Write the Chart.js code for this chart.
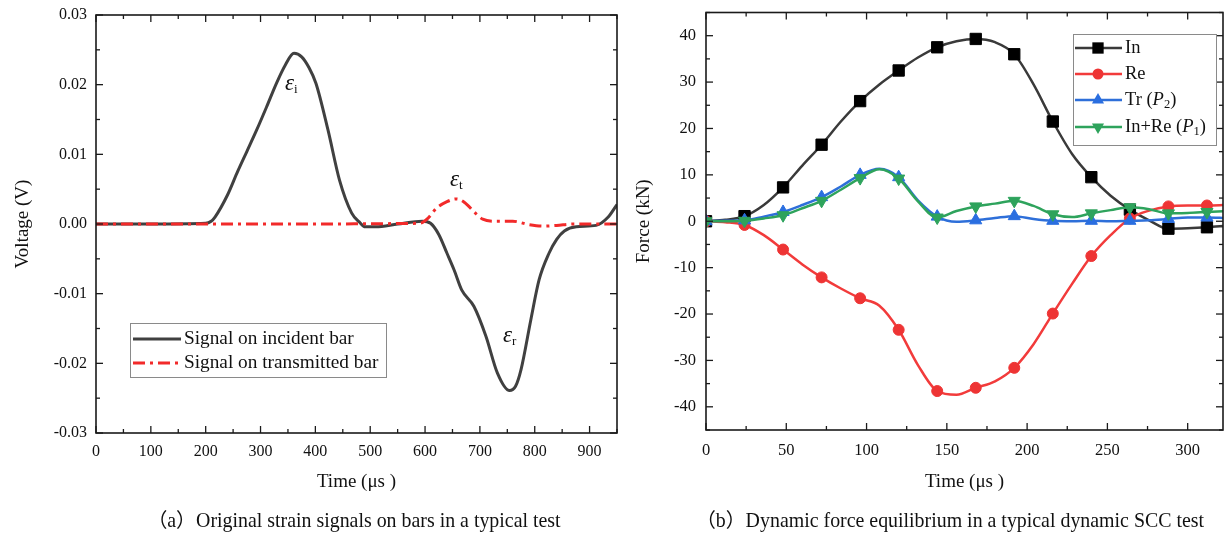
<!DOCTYPE html>
<html>
<head>
<meta charset="utf-8">
<script src="https://cdn.jsdelivr.net/npm/chart.js@4.4.0/dist/chart.umd.min.js"></script>
<style>
  body { margin: 0; background: #fff; }
  #wrap { position: relative; width: 1225px; height: 537px; overflow: hidden; }
  #strain-box { position: absolute; left: 0; top: 0; width: 630px; height: 537px; }
  #force-box { position: absolute; left: 630px; top: 0; width: 602px; height: 537px; }
</style>
</head>
<body>
<div id="wrap">
  <div id="strain-box"><canvas id="strain-canvas"></canvas></div>
  <div id="force-box"><canvas id="force-canvas"></canvas></div>
</div>
<script>
// (a) strain signals
const incident_time = [0, 100, 200, 210, 217, 240, 257, 275, 293, 311, 329, 345, 361, 375, 388, 401, 423, 444, 466, 480, 491, 510, 550, 595, 610, 625, 640, 653, 667, 689, 711, 732, 754, 765, 775, 793, 808, 826, 840, 854, 876, 912, 934, 950];
const incident_volt = [0, 0, 0.0001, 0.0004, 0.0010, 0.0042, 0.0073, 0.0104, 0.0135, 0.0168, 0.0202, 0.0228, 0.0245, 0.0240, 0.0225, 0.0202, 0.0135, 0.0063, 0.0016, 0.0003, -0.0004, -0.0004, 0.0000, 0.0004, 0.0001, -0.0015, -0.0042, -0.0066, -0.0095, -0.0118, -0.0161, -0.0214, -0.0239, -0.0233, -0.0209, -0.0137, -0.0080, -0.0042, -0.0022, -0.0010, -0.0004, -0.0002, 0.0010, 0.0028];
const transmit_time = [0, 300, 590, 605, 620, 640, 657, 672, 690, 705, 730, 760, 790, 815, 840, 870, 950];
const transmit_volt = [0, 0, 0.0001, 0.0008, 0.0022, 0.0032, 0.0036, 0.0031, 0.0017, 0.0007, 0.0004, 0.0004, -0.0001, -0.0003, -0.0002, 0, 0];
const strain_x_ticks = [0, 100, 200, 300, 400, 500, 600, 700, 800, 900];
const strain_y_ticks = [-0.03, -0.02, -0.01, 0, 0.01, 0.02, 0.03];

// (b) force equilibrium, sampled every 12 us (markers every 24 us)
const force_time = [0, 12, 24, 36, 48, 60, 72, 84, 96, 108, 120, 132, 144, 156, 168, 180, 192, 204, 216, 228, 240, 252, 264, 276, 288, 300, 312, 324];
const force_in = [0, 0.3, 1.1, 3.5, 7.3, 12, 16.5, 21.5, 25.9, 29.5, 32.5, 35.3, 37.5, 38.8, 39.3, 38.6, 36, 29.5, 21.5, 14.5, 9.5, 5.5, 2.5, 0.2, -1.6, -1.5, -1.3, -1.0];
const force_re = [0, -0.2, -0.8, -3, -6.1, -9.3, -12.1, -14.5, -16.6, -18.2, -23.4, -31, -36.6, -37.4, -35.9, -34.5, -31.6, -26.5, -19.9, -13.5, -7.5, -3, 0.6, 2.3, 3.2, 3.4, 3.4, 3.5];
const force_tr = [0, 0.1, 0.2, 1, 2, 3.5, 5.2, 7.5, 10, 11.3, 9.5, 4.5, 1, -0.1, 0.2, 0.7, 1.1, 0.5, 0.1, 0, 0.1, 0, 0.1, 0.2, 0.5, 0.8, 0.8, 0.7];
const force_p1 = [0, 0, 0.1, 0.6, 1.3, 2.8, 4.4, 6.8, 9.3, 11.2, 9.2, 4.3, 0.8, 2.2, 3.2, 3.8, 4.4, 3.3, 1.5, 0.9, 1.7, 2.4, 3.0, 2.6, 1.7, 1.8, 2.0, 2.2];
const force_x_ticks = [0, 50, 100, 150, 200, 250, 300];
const force_y_ticks = [-40, -30, -20, -10, 0, 10, 20, 30, 40];

const SERIF = "'Liberation Serif', 'Times New Roman', serif";
const CAPTION_FONT = `19.9px ${SERIF}, 'Noto Sans CJK SC'`;

const toPoints = (xs, ys) => xs.map((x, i) => ({ x: x, y: ys[i] }));
const isMarker = (i) => force_time[i] % 24 === 0;

// mirrored inward ticks and closed frame, like the original plots
const frameTicks = {
  id: "frameTicks",
  afterDatasetsDraw(chart, args, opts) {
    const { ctx, chartArea: { left, right, top, bottom }, scales: { x, y } } = chart;
    const line = (x1, y1, x2, y2) => {
      ctx.beginPath();
      ctx.moveTo(x1, y1);
      ctx.lineTo(x2, y2);
      ctx.stroke();
    };
    const isMajor = (scale, v) => scale.ticks.some(({ value }) => Math.abs(value - v) < 1e-9);
    ctx.save();
    ctx.strokeStyle = "#1a1a1a";
    ctx.lineWidth = 1.3;
    for (let i = Math.ceil(x.min / opts.x_minor - 1e-9); i * opts.x_minor <= x.max + 1e-9; i++) {
      const v = i * opts.x_minor;
      const len = isMajor(x, v) ? 7 : 4;
      const px = x.getPixelForValue(v);
      line(px, bottom, px, bottom - len);
      line(px, top, px, top + len);
    }
    for (let i = Math.ceil(y.min / opts.y_minor - 1e-9); i * opts.y_minor <= y.max + 1e-9; i++) {
      const v = i * opts.y_minor;
      const len = isMajor(y, v) ? 7 : 4;
      const py = y.getPixelForValue(v);
      line(left, py, left + len, py);
      line(right, py, right - len, py);
    }
    ctx.lineWidth = 1.6;
    ctx.strokeRect(left, top, right - left, bottom - top);
    ctx.restore();
  },
};

const drawParts = (ctx, parts, x, y) => {
  let cur_x = x;
  parts.forEach(({ text, font, dy = 0 }) => {
    ctx.font = font;
    ctx.fillText(text, cur_x, y + dy);
    cur_x += ctx.measureText(text).width;
  });
};

const drawMarker = (ctx, style, x, y, r) => {
  ctx.beginPath();
  if (style === "rect") {
    const s = r * Math.SQRT1_2;
    ctx.rect(x - s, y - s, 2 * s, 2 * s);
  } else if (style === "circle") {
    ctx.arc(x, y, r, 0, Math.PI * 2);
  } else {
    const dir = style === "triangle-down" ? -1 : 1;
    ctx.moveTo(x, y - dir * r);
    ctx.lineTo(x + r * 0.866, y + dir * r / 2);
    ctx.lineTo(x - r * 0.866, y + dir * r / 2);
    ctx.closePath();
  }
  ctx.fill();
};

const strainNotes = {
  id: "strainNotes",
  afterDraw(chart) {
    const { ctx } = chart;
    ctx.save();
    ctx.fillStyle = "#111";
    ctx.textBaseline = "middle";
    const eps = `italic 23px ${SERIF}`;
    const sub = `13px ${SERIF}`;
    drawParts(ctx, [{ text: "\u03b5", font: eps }, { text: "i", font: sub, dy: 6 }], 285, 84);
    drawParts(ctx, [{ text: "\u03b5", font: eps }, { text: "t", font: sub, dy: 6 }], 450, 180);
    drawParts(ctx, [{ text: "\u03b5", font: eps }, { text: "r", font: sub, dy: 6 }], 503, 336);

    // legend
    ctx.strokeStyle = "#8a8a8a";
    ctx.lineWidth = 1;
    ctx.strokeRect(130.5, 323.5, 256, 54);
    ctx.lineWidth = 3;
    ctx.strokeStyle = "#404040";
    ctx.beginPath();
    ctx.moveTo(133, 339);
    ctx.lineTo(181, 339);
    ctx.stroke();
    ctx.strokeStyle = "#f22a2a";
    ctx.setLineDash([12, 5, 3, 5]);
    ctx.beginPath();
    ctx.moveTo(133, 363);
    ctx.lineTo(181, 363);
    ctx.stroke();
    ctx.setLineDash([]);
    ctx.font = `19.3px ${SERIF}`;
    ctx.fillText("Signal on incident bar", 184, 339);
    ctx.fillText("Signal on transmitted bar", 184, 363);

    ctx.textAlign = "center";
    ctx.font = CAPTION_FONT;
    ctx.fillText("（a）Original strain signals on bars in a typical test", 354, 522);
    ctx.restore();
  },
};

const force_series = [
  { label: "In", color: "#3a3a3a", mark: "#000000", style: "rect" },
  { label: "Re", color: "#f23b3b", mark: "#ee3434", style: "circle" },
  { label: "Tr", sub: "2", color: "#2e6fd9", mark: "#2a6ee0", style: "triangle" },
  { label: "In+Re", sub: "1", color: "#2ea35c", mark: "#2ea35c", style: "triangle-down" },
];

const forceNotes = {
  id: "forceNotes",
  afterDraw(chart) {
    const { ctx } = chart;
    const off = 630;
    ctx.save();
    ctx.fillStyle = "#111";
    ctx.textBaseline = "middle";
    ctx.strokeStyle = "#8a8a8a";
    ctx.lineWidth = 1;
    ctx.strokeRect(1073.5 - off, 34.5, 143, 111);
    const rows = [48, 74, 100, 127];
    const txt = `18.5px ${SERIF}`;
    const ital = `italic 18.5px ${SERIF}`;
    const sub = `12.5px ${SERIF}`;
    force_series.forEach(({ label, sub: s, color, mark, style }, i) => {
      const y = rows[i];
      ctx.strokeStyle = color;
      ctx.lineWidth = 2.5;
      ctx.beginPath();
      ctx.moveTo(1075 - off, y);
      ctx.lineTo(1122 - off, y);
      ctx.stroke();
      ctx.fillStyle = mark;
      const r = style === "rect" ? 8 : style === "circle" ? 5.5 : 7;
      drawMarker(ctx, style, 1098 - off, y, r);
      ctx.fillStyle = "#111";
      const parts = [{ text: label, font: txt }];
      if (s) {
        parts.push({ text: " (", font: txt }, { text: "P", font: ital }, { text: s, font: sub, dy: 5 }, { text: ")", font: txt });
      }
      drawParts(ctx, parts, 1125 - off, y);
    });
    ctx.textAlign = "center";
    ctx.font = CAPTION_FONT;
    ctx.fillText("（b）Dynamic force equilibrium in a typical dynamic SCC test", 950 - off, 522);
    ctx.restore();
  },
};

const tickFont = (size) => ({ family: SERIF, size: size });
// keep the plot box where the layout padding says, not where the tick labels push it
const noPad = (scale) => {
  scale.paddingTop = 0;
  scale.paddingBottom = 0;
  scale.paddingLeft = 0;
  scale.paddingRight = 0;
};

new Chart(document.getElementById("strain-canvas"), {
  type: "line",
  data: {
    datasets: [
      {
        label: "Signal on transmitted bar",
        data: toPoints(transmit_time, transmit_volt),
        borderColor: "#f22a2a",
        borderWidth: 3,
        borderDash: [12, 5, 3, 5],
        pointRadius: 0,
        cubicInterpolationMode: "monotone",
      },
      {
        label: "Signal on incident bar",
        data: toPoints(incident_time, incident_volt),
        borderColor: "#404040",
        borderWidth: 3,
        pointRadius: 0,
        cubicInterpolationMode: "monotone",
      },
    ],
  },
  options: {
    animation: false,
    responsive: true,
    maintainAspectRatio: false,
    layout: { padding: { top: 15, right: 13, bottom: 28, left: 0 } },
    plugins: {
      legend: { display: false },
      tooltip: { enabled: false },
      frameTicks: { x_minor: 50, y_minor: 0.005 },
    },
    scales: {
      x: {
        type: "linear",
        min: 0,
        max: 950,
        afterBuildTicks: (scale) => { scale.ticks = strain_x_ticks.map((v) => ({ value: v })); },
        afterFit: (scale) => { scale.height = 76; noPad(scale); },
        grid: { display: false, drawTicks: false },
        border: { display: false },
        ticks: { font: tickFont(16), color: "#111", padding: 9, maxRotation: 0 },
        title: { display: true, text: "Time (\u03bcs )", font: tickFont(19), color: "#111", padding: { top: 0, bottom: 16 } },
      },
      y: {
        min: -0.03,
        max: 0.03,
        afterBuildTicks: (scale) => { scale.ticks = strain_y_ticks.map((v) => ({ value: v })); },
        afterFit: (scale) => { scale.width = 96; noPad(scale); },
        grid: { display: false, drawTicks: false },
        border: { display: false },
        ticks: { font: tickFont(16), color: "#111", padding: 9, callback: (v) => v.toFixed(2) },
        title: { display: true, text: "Voltage (V)", font: tickFont(19), color: "#111", padding: { top: 11.5, bottom: 0 } },
      },
    },
  },
  plugins: [frameTicks, strainNotes],
});

new Chart(document.getElementById("force-canvas"), {
  type: "line",
  data: {
    datasets: [force_in, force_re, force_tr, force_p1].map((values, i) => {
      const { label, color, mark, style } = force_series[i];
      return {
        label: label,
        data: toPoints(force_time, values),
        borderColor: color,
        borderWidth: 2.5,
        backgroundColor: mark,
        pointBackgroundColor: mark,
        pointBorderColor: mark,
        pointBorderWidth: 1,
        pointStyle: style === "triangle-down" ? "triangle" : style,
        rotation: style === "triangle-down" ? 180 : 0,
        pointRadius: (ctx) => (isMarker(ctx.dataIndex) ? (style === "rect" ? 8 : style === "circle" ? 5.5 : 7) : 0),
        cubicInterpolationMode: "monotone",
        order: 3 - i,
      };
    }),
  },
  options: {
    animation: false,
    responsive: true,
    maintainAspectRatio: false,
    layout: { padding: { top: 12.5, right: 2, bottom: 28, left: 0 } },
    plugins: {
      legend: { display: false },
      tooltip: { enabled: false },
      frameTicks: { x_minor: 25, y_minor: 5 },
    },
    scales: {
      x: {
        type: "linear",
        min: 0,
        max: 322,
        afterBuildTicks: (scale) => { scale.ticks = force_x_ticks.map((v) => ({ value: v })); },
        afterFit: (scale) => { scale.height = 79; noPad(scale); },
        grid: { display: false, drawTicks: false },
        border: { display: false },
        ticks: { font: tickFont(16.5), color: "#111", padding: 10.5, maxRotation: 0 },
        title: { display: true, text: "Time (\u03bcs )", font: tickFont(19), color: "#111", padding: { top: 0, bottom: 15.6 } },
      },
      y: {
        min: -45,
        max: 45,
        afterBuildTicks: (scale) => { scale.ticks = force_y_ticks.map((v) => ({ value: v })); },
        afterFit: (scale) => { scale.width = 76; noPad(scale); },
        grid: { display: false, drawTicks: false },
        border: { display: false },
        ticks: { font: tickFont(16.5), color: "#111", padding: 10 },
        title: { display: true, text: "Force (kN)", font: tickFont(19), color: "#111", padding: { top: 2.6, bottom: 0 } },
      },
    },
  },
  plugins: [frameTicks, forceNotes],
});
</script>
</body>
</html>
